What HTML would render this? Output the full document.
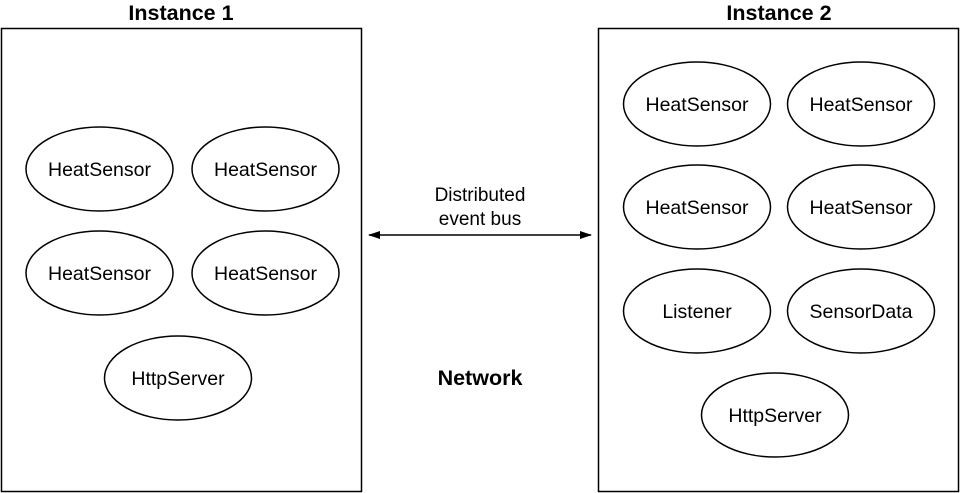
<!DOCTYPE html>
<html><head><style>body{margin:0;background:#fff}svg{display:block}</style></head><body>
<svg width="960" height="493" viewBox="0 0 960 493" xmlns="http://www.w3.org/2000/svg" font-family="Liberation Sans, Arial, sans-serif">
<defs><marker id="a" markerWidth="12" markerHeight="8" refX="11" refY="4" orient="auto-start-reverse" markerUnits="userSpaceOnUse"><path d="M0,0 L12,4 L0,8 Z" fill="#000"/></marker></defs>
<g fill="none" stroke="#000" stroke-width="1.5">
<rect x="1.5" y="28.5" width="360" height="463"/>
<rect x="598.5" y="28.5" width="360" height="463"/>
<ellipse cx="99.5" cy="169" rx="73.5" ry="42"/>
<ellipse cx="265.5" cy="169" rx="73.5" ry="42"/>
<ellipse cx="99.5" cy="273" rx="73.5" ry="42"/>
<ellipse cx="265.5" cy="273" rx="73.5" ry="42"/>
<ellipse cx="178" cy="378" rx="73.5" ry="42"/>
<ellipse cx="697" cy="104" rx="73.5" ry="42"/>
<ellipse cx="861" cy="104" rx="73.5" ry="42"/>
<ellipse cx="697" cy="207" rx="73.5" ry="42"/>
<ellipse cx="861" cy="207" rx="73.5" ry="42"/>
<ellipse cx="697" cy="311" rx="73.5" ry="42"/>
<ellipse cx="861" cy="311" rx="73.5" ry="42"/>
<ellipse cx="775" cy="415" rx="73.5" ry="42"/>
<line x1="369" y1="235" x2="591" y2="235" marker-start="url(#a)" marker-end="url(#a)"/>
</g>
<g font-size="19.5" text-anchor="middle" fill="#000">
<text x="181" y="20" font-weight="bold" font-size="21.5">Instance 1</text>
<text x="779" y="20" font-weight="bold" font-size="21.5">Instance 2</text>
<text x="99.5" y="176">HeatSensor</text>
<text x="265.5" y="176">HeatSensor</text>
<text x="99.5" y="280">HeatSensor</text>
<text x="265.5" y="280">HeatSensor</text>
<text x="178" y="385">HttpServer</text>
<text x="697" y="111">HeatSensor</text>
<text x="861" y="111">HeatSensor</text>
<text x="697" y="214">HeatSensor</text>
<text x="861" y="214">HeatSensor</text>
<text x="697" y="318">Listener</text>
<text x="861" y="318">SensorData</text>
<text x="775" y="422">HttpServer</text>
<text x="480" y="201" font-size="19">Distributed</text>
<text x="480" y="225" font-size="19">event bus</text>
<text x="480" y="385" font-weight="bold" font-size="21.5">Network</text>
</g>
</svg>
</body></html>
